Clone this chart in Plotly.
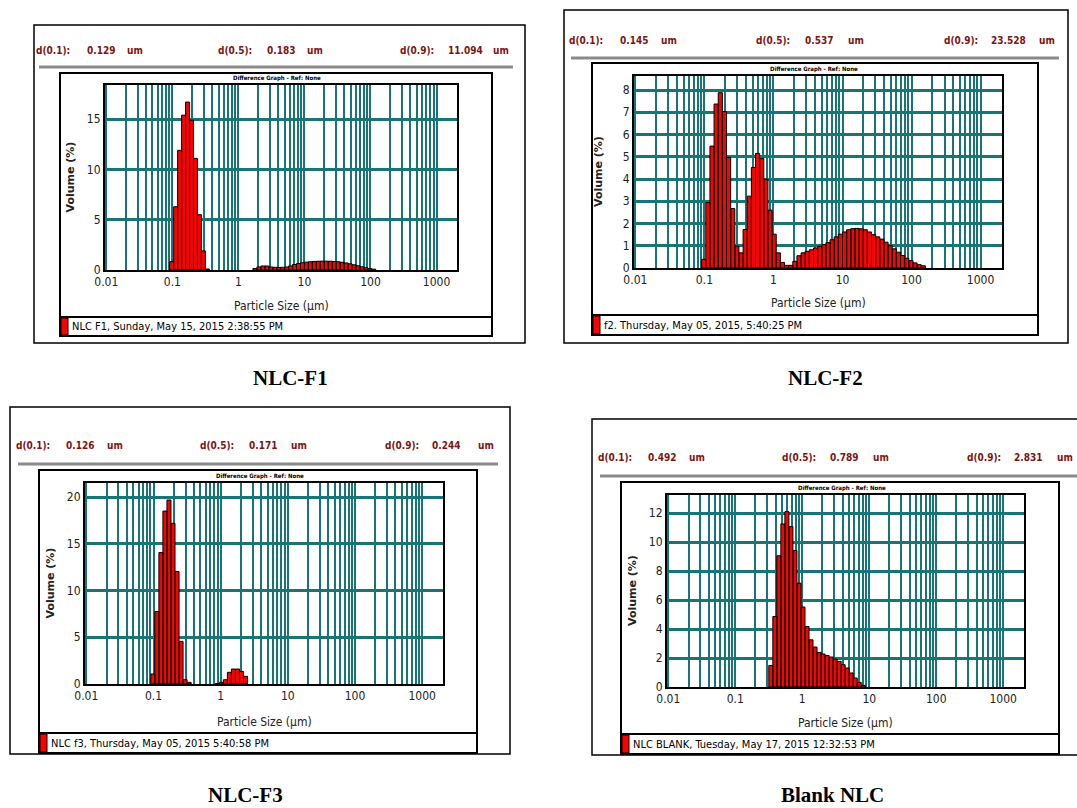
import plotly.graph_objects as go

# ---------------- DATA ----------------
# Mastersizer size-class lower edges (µm)
bin_edges_um = [0.0794, 0.0912, 0.1047, 0.1202, 0.1380, 0.1585, 0.1820, 0.2089, 0.2399, 0.2754,
                0.3162, 0.3631, 0.4169, 0.4786, 0.5495, 0.6310, 0.7244, 0.8318, 0.9550, 1.0965,
                1.2589, 1.4454, 1.6596, 1.9055, 2.1878, 2.5119, 2.8840, 3.3113, 3.8019, 4.3652,
                5.0119, 5.7544, 6.6069, 7.5858, 8.7096, 10.000, 11.482, 13.183, 15.136, 17.378,
                19.953, 22.909, 26.303, 30.200, 34.674, 39.811, 45.709, 52.481, 60.256, 69.183,
                79.433, 91.201, 104.713, 120.226, 138.038, 158.489, 181.970]

# NLC-F1 volume (%) per class, starting at 0.0912 µm
f1_start = 0.0912
f1_volume = [0.83, 6.3, 11.9, 15.4, 16.7, 14.9, 11.1, 5.5, 1.9, 0.1,
             0, 0, 0, 0, 0, 0, 0, 0, 0, 0, 0,
             0.15, 0.3, 0.4, 0.4, 0.3, 0.27, 0.25, 0.27, 0.3, 0.4,
             0.55, 0.65, 0.72, 0.78, 0.82, 0.85, 0.87, 0.88, 0.88, 0.87,
             0.85, 0.82, 0.77, 0.7, 0.62, 0.52, 0.42, 0.32, 0.23, 0.15, 0.08]

# NLC-F2
f2_start = 0.0912
f2_volume = [0.39, 2.94, 5.48, 7.37, 7.88, 7.03, 4.97, 2.67, 0.98, 0.68,
             1.73, 3.23, 4.52, 5.15, 4.92, 3.99, 2.6, 1.52, 0.68,
             0.25, 0.12, 0.12, 0.3, 0.55, 0.68, 0.75, 0.82, 0.9, 0.97, 1.05,
             1.14, 1.27, 1.4, 1.52, 1.62, 1.72, 1.77, 1.78, 1.76, 1.72,
             1.62, 1.5, 1.4, 1.3, 1.16, 1.0, 0.86, 0.71, 0.56, 0.44,
             0.33, 0.23, 0.15, 0.1]

# NLC-F3
f3_start = 0.0912
f3_volume = [1.07, 7.76, 14.06, 18.5, 19.68, 17.19, 12.03, 4.56, 0.46, 0.18,
             0, 0, 0, 0, 0, 0, 0.05, 0.18, 0.46, 1.25, 1.6, 1.6, 1.35, 0.82]

# Blank NLC
blank_start = 0.3162
blank_volume = [1.49, 4.87, 9.06, 11.26, 12.11, 11.08, 9.43, 7.17, 5.52, 4.18,
                3.26, 2.76, 2.39, 2.28, 2.18, 2.07, 1.93, 1.77, 1.54, 1.31,
                0.97, 0.62, 0.32, 0.11]

panel_labels = ["NLC-F1", "NLC-F2", "NLC-F3", "Blank NLC"]
d10_values = ["0.129", "0.145", "0.126", "0.492"]
d50_values = ["0.183", "0.537", "0.171", "0.789"]
d90_values = ["11.094", "23.528", "0.244", "2.831"]
legend_texts = ["NLC F1, Sunday, May 15, 2015 2:38:55 PM",
                "f2. Thursday, May 05, 2015, 5:40:25 PM",
                "NLC f3, Thursday, May 05, 2015 5:40:58 PM",
                "NLC BLANK, Tuesday, May 17, 2015 12:32:53 PM"]
y_max = [18.4, 8.63, 21.5, 13.26]
y_step = [5, 1, 5, 2]
x_tick_vals = [0.01, 0.1, 1, 10, 100, 1000]
x_tick_text = ["0.01", "0.1", "1", "10", "100", "1000"]

# ---------------- LAYOUT GEOMETRY (px) ----------------
W, H = 1077, 808
# head_lab: right ends of "d(..):" labels; head_val: left of values; head_um: left of "um"
geom = [
    dict(outer=(34, 25, 525, 343), head_y=50, rule=(39, 513, 67), inner=(60, 73, 492, 336), leg_top=317,
         plot=(105, 85, 457, 270), head_lab=[72, 254, 436], head_val=[85, 265, 446], head_um=[125, 305, 491],
         xt=36, label=(291, 378)),
    dict(outer=(564, 10, 1068, 343), head_y=40, rule=(571, 1059, 58), inner=(592, 63, 1038, 335), leg_top=315,
         plot=(634, 76, 1002, 268), head_lab=[605, 792, 980], head_val=[618, 803, 989], head_um=[659, 846, 1037],
         xt=35, label=(825, 378)),
    dict(outer=(10, 407, 510, 754), head_y=445, rule=(18, 498, 464), inner=(39, 470, 477, 753), leg_top=733,
         plot=(85, 483, 443, 684), head_lab=[52, 236, 421], head_val=[64, 247, 430], head_um=[105, 289, 476],
         xt=38, label=(245, 795)),
    dict(outer=(592, 419, 1080, 755), head_y=458, rule=(600, 1077, 476), inner=(621, 482, 1059, 754), leg_top=734,
         plot=(667, 495, 1024, 687), head_lab=[634, 818, 1003], head_val=[646, 828, 1012], head_um=[687, 871, 1055],
         xt=36, label=(832, 795)),
]

def px(x):
    return x / W

def py(y):
    return 1 - y / H

NARROW = "DejaVu Sans Condensed, Liberation Sans Narrow, Liberation Sans, sans-serif"
RED_TXT = "#7d1414"
GRID = "#177575"

grid_vals = []
grid_text = []
for dec in [0.01, 0.1, 1, 10, 100]:
    for m in range(1, 10):
        v = round(dec * m, 6)
        grid_vals.append(v)
        grid_text.append(x_tick_text[x_tick_vals.index(dec)] if m == 1 else "")
grid_vals.append(1000)
grid_text.append("1000")

series = [(f1_start, f1_volume), (f2_start, f2_volume), (f3_start, f3_volume), (blank_start, blank_volume)]

fig = go.Figure()
shapes = []
annotations = []

for i, g in enumerate(geom):
    n = i + 1
    xs_name = "x" if n == 1 else f"x{n}"
    ys_name = "y" if n == 1 else f"y{n}"
    start, vols = series[i]
    i0 = bin_edges_um.index(start)
    bx, by = [], []
    for j, v in enumerate(vols):
        if v <= 0:
            continue
        lo, hi = bin_edges_um[i0 + j], bin_edges_um[i0 + j + 1]
        bx += [lo, lo, hi, hi, lo, None]
        by += [0, v, v, 0, 0, None]
    fig.add_trace(go.Scatter(x=bx, y=by, mode="lines", fill="toself", fillcolor="#ff0000",
                             line=dict(color="black", width=1), xaxis=xs_name, yaxis=ys_name,
                             hoverinfo="skip", showlegend=False))
    x0, y0, x1, y1 = g["plot"]
    xa = dict(domain=[px(x0), px(x1)], anchor=ys_name, type="log", range=[-2.02, 3.31],
              tickmode="array", tickvals=grid_vals, ticktext=grid_text, automargin=False,
              showgrid=True, gridcolor=GRID, gridwidth=1.5, zeroline=False,
              showline=True, mirror=True, linecolor="black", linewidth=2, ticks="",
              tickfont=dict(family=NARROW, size=12, color="#222"))
    ya = dict(domain=[py(y1), py(y0)], anchor=xs_name, range=[0, y_max[i]], dtick=y_step[i], tick0=0,
              automargin=False,
              showgrid=True, gridcolor=GRID, gridwidth=2.5, zeroline=False,
              showline=True, mirror=True, linecolor="black", linewidth=2, ticks="",
              tickfont=dict(family=NARROW, size=12, color="#222"))
    fig.update_layout(**{("xaxis" if n == 1 else f"xaxis{n}"): xa, ("yaxis" if n == 1 else f"yaxis{n}"): ya})

    # boxes
    ox0, oy0, ox1, oy1 = g["outer"]
    shapes.append(dict(type="rect", xref="paper", yref="paper", x0=px(ox0), x1=px(ox1), y0=py(oy1), y1=py(oy0),
                       line=dict(color="black", width=1.5)))
    rx0, rx1, ry = g["rule"]
    shapes.append(dict(type="line", xref="paper", yref="paper", x0=px(rx0), x1=px(rx1), y0=py(ry), y1=py(ry),
                       line=dict(color="#8a8a8a", width=3)))
    ix0, iy0, ix1, iy1 = g["inner"]
    shapes.append(dict(type="rect", xref="paper", yref="paper", x0=px(ix0), x1=px(ix1), y0=py(iy1), y1=py(iy0),
                       line=dict(color="black", width=2)))
    lt = g["leg_top"]
    shapes.append(dict(type="line", xref="paper", yref="paper", x0=px(ix0), x1=px(ix1), y0=py(lt), y1=py(lt),
                       line=dict(color="black", width=2)))
    shapes.append(dict(type="rect", xref="paper", yref="paper", x0=px(ix0 + 1), x1=px(ix0 + 8),
                       y0=py(iy1 - 1), y1=py(lt + 1), fillcolor="#ff0000", line=dict(color="black", width=1)))
    annotations.append(dict(text=legend_texts[i], xref="paper", yref="paper", x=px(ix0 + 10),
                            y=py((lt + iy1) / 2), xanchor="left", yanchor="middle", showarrow=False,
                            font=dict(family=NARROW, size=11, color="black")))

    # header
    hfont = dict(family=NARROW, size=10, color=RED_TXT)
    labs = ["d(0.1):", "d(0.5):", "d(0.9):"]
    vals = [d10_values[i], d50_values[i], d90_values[i]]
    for k in range(3):
        annotations.append(dict(text=f"<b>{labs[k]}</b>", xref="paper", yref="paper", x=px(g["head_lab"][k]),
                                y=py(g["head_y"]), xanchor="right", yanchor="middle", showarrow=False, font=hfont))
        annotations.append(dict(text=f"<b>{vals[k]}</b>", xref="paper", yref="paper", x=px(g["head_val"][k]),
                                y=py(g["head_y"]), xanchor="left", yanchor="middle", showarrow=False, font=hfont))
        annotations.append(dict(text="<b>um</b>", xref="paper", yref="paper", x=px(g["head_um"][k]),
                                y=py(g["head_y"]), xanchor="left", yanchor="middle", showarrow=False, font=hfont))
    # titles
    annotations.append(dict(text="<b>Difference Graph - Ref: None</b>", xref="paper", yref="paper",
                            x=px((x0 + x1) / 2 - 4), y=py(y0 - 1), xanchor="center", yanchor="bottom",
                            showarrow=False, font=dict(family=NARROW, size=6, color="black")))
    annotations.append(dict(text="<b>Volume (%)</b>", xref="paper", yref="paper", x=px(x0 - 35),
                            y=py((y0 + y1) / 2), xanchor="center", yanchor="middle", textangle=-90,
                            showarrow=False, font=dict(family="DejaVu Sans", size=11, color="#222")))
    annotations.append(dict(text="Particle Size (µm)", xref="paper", yref="paper", x=px((x0 + x1) / 2),
                            y=py(y1 + g["xt"]), xanchor="center", yanchor="middle",
                            showarrow=False, font=dict(family=NARROW, size=12, color="#222")))
    lx, ly = g["label"]
    annotations.append(dict(text=f"<b>{panel_labels[i]}</b>", xref="paper", yref="paper", x=px(lx), y=py(ly),
                            xanchor="center", yanchor="middle", showarrow=False,
                            font=dict(family="Liberation Serif, Times New Roman, serif", size=21, color="black")))

fig.update_layout(width=W, height=H, margin=dict(l=0, r=0, t=0, b=0, pad=0), paper_bgcolor="white",
                  plot_bgcolor="white", showlegend=False, shapes=shapes, annotations=annotations)

fig.write_html("out.html", config={"displayModeBar": False},
               post_script="document.body.style.margin='0';document.body.style.overflow='hidden';")
